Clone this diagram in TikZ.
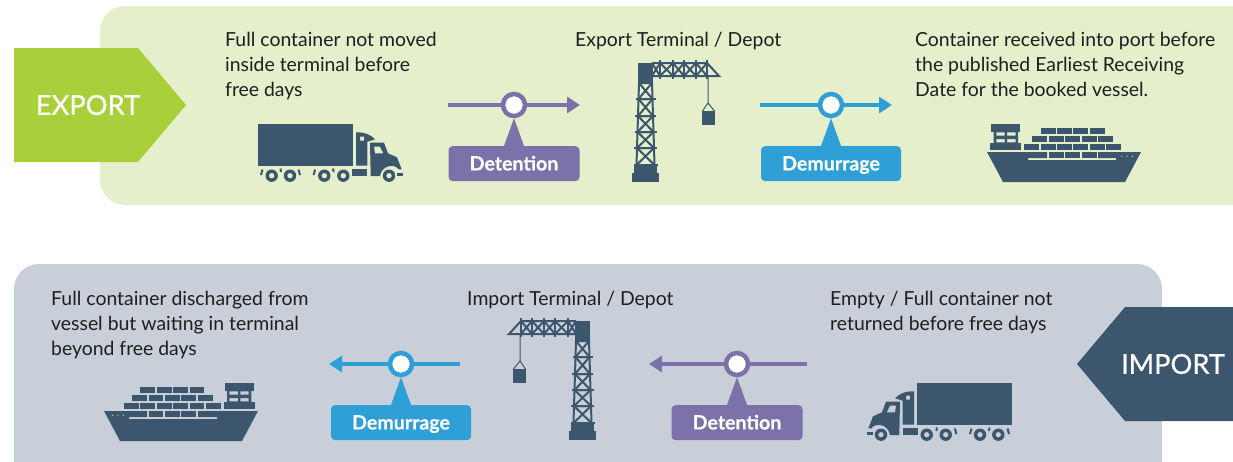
\documentclass[tikz,border=0pt]{standalone}
\usepackage{fontspec}
\setmainfont{Lato}
\newfontfamily\sidefont[FakeBold=0.6]{Lato}
\newfontfamily\tagfont[UprightFont={* Bold},FakeBold=0.4]{Lato}
\usetikzlibrary{arrows.meta, positioning}
\definecolor{leaf}{HTML}{A9D03A}
\definecolor{leafbg}{HTML}{E5EFCB}
\definecolor{slate}{HTML}{3C566E}
\definecolor{slatebg}{HTML}{C9CFD8}
\definecolor{violet}{HTML}{7C71A9}
\definecolor{sky}{HTML}{2F9FD8}
\definecolor{ink}{HTML}{1E1E1E}
\tikzset{
  note/.style={
    anchor=north west,
    inner sep=0pt,
    align=left,
    text=ink,
    font=\fontsize{19.4}{25}\selectfont
  },
  side/.style={
    text=white,
    inner sep=0pt,
    font=\sidefont\fontsize{27.3}{32}\selectfont
  },
  hub/.style={
    circle,
    draw=#1,
    fill=white,
    line width=4.5pt,
    inner sep=0pt,
    minimum size=22pt
  },
  tag/.style={
    rectangle,
    rounded corners=4pt,
    fill=#1,
    text=white,
    minimum height=35pt,
    inner sep=0pt,
    text height=13.5pt,
    text depth=0pt,
    font=\tagfont\fontsize{19.6}{22}\selectfont
  },
  flow/.style={
    draw=#1,
    line width=4pt,
    -{Triangle[length=13pt,width=16pt]}
  },
  pics/truck/.style={code={
    \fill[slate] (0,0) rectangle (95,42);
    \fill[slate,even odd rule] (98,8.3) .. controls (107,8) and (113,11) .. (117,15.3)
      -- (109.3,17.7) -- (109.3,41.7) -- (98,41.7) -- cycle
      (102,12.7) rectangle (106,16.7);
    \fill[slate,even odd rule] (112,18.7) -- (126,18.7) -- (130,29.3) -- (139,33.3)
      -- (143.7,45.3) -- (140.5,45.3) .. controls (138,40) and (124,40) .. (122,52)
      -- (112.7,52) -- cycle
      (116,22.7) -- (122,22.7) -- (125.3,29.3) -- (117,29.3) -- cycle;
    \fill[slate] (93.7,45.3) rectangle (109.3,52);
    \fill[slate] (139.3,48.7) rectangle (145.3,52);
    \foreach \wx in {13.7,32,66.3,85.3,131}
      \fill[slate,even odd rule] (\wx,51.7) circle (6.2pt) (\wx,51.7) circle (2.8pt);
    \foreach \fx in {0,52.6}{
      \draw[slate,line width=2pt] (\fx+4.5,45.5) -- (\fx+3,51);
      \draw[slate,line width=2pt] (\fx+22.5,44.5) -- (\fx+23,48);
    }
    \draw[slate,line width=2pt] (40.5,45.5) -- (42,51);
  }},
  pics/crane/.style={code={
    % tower
    \foreach \ya/\yb/\da/\db in {20/36/0/0.5,36/53/0.5/1,53/69/1/1.5,69/85/1.5/2,85/102/2/2.5}{
      \draw[slate,line width=2pt] ({1-\da},\ya) -- ({1-\db},\yb) -- ({14+\db},\yb) -- ({14+\da},\ya) -- cycle;
      \draw[slate,line width=2pt] ({1-\da},\ya) -- ({14+\db},\yb) ({14+\da},\ya) -- ({1-\db},\yb);
      \draw[slate,line width=2pt] ({-2-\db},\yb) -- ({17+\db},\yb);
    }
    % jib
    \draw[slate,line width=2pt] (14,0) -- (69,0) -- (81,13) -- (14,13);
    \foreach \xa/\xb in {14/22,22/35,35/46,46/58,58/69}{
      \draw[slate,line width=2pt] (\xa,0) -- (\xb,13) (\xb,0) -- (\xa,13);
      \draw[slate,line width=2pt] (\xb,-3) -- (\xb,16);
    }
    \fill[slate] (0.3,0) rectangle (14.7,19);
    \fill[slate] (-4,102) rectangle (19,110);
    \fill[slate] (-6.3,110) rectangle (21,119);
    % load
    \draw[slate,line width=1pt] (70,13) -- (70,40) -- (64.5,48) (70,40) -- (76.5,48);
    \fill[slate] (64,48) rectangle (77,62);
  }},
  pics/ship/.style={code={
    \fill[slate,even odd rule] (0,0) -- (60,0) -- (60,6) -- (41,6) -- (41,8) -- (129,8)
      -- (129,6) -- (111,6) -- (111,0) -- (154,0) -- (138,30) -- (16,30) -- cycle
      (134.7,4.3) circle (0.9pt) (140,4.3) circle (0.9pt) (145.3,4.3) circle (0.9pt);
    \foreach \bx in {62,78.4,94.7}
      \fill[slate] (\bx,0) rectangle +(14.8,6);
    \foreach \bx in {37.4,53.7,70,86.4,103,119.3}
      \fill[slate] (\bx,-7.9) rectangle +(14.8,6.2);
    \foreach \bx in {45.4,62,78.4,94.7,111.4}
      \fill[slate] (\bx,-16.2) rectangle +(14.8,6.2);
    \foreach \bx in {53.7,70,86.4,103}
      \fill[slate] (\bx,-24) rectangle +(14.8,6.2);
    % bridge
    \fill[slate] (4.4,-27.7) rectangle (32.7,-20.3);
    \fill[slate,even odd rule] (6.7,-20.3) rectangle (31,-8.7)
      (9.4,-19.7) rectangle (17.7,-16.3) (20,-19.7) rectangle (28.7,-16.3)
      (9.4,-13) rectangle (17.7,-9.7) (20,-13) rectangle (28.7,-9.7);
    \fill[slate] (2.7,-8.7) rectangle (34.4,-2);
  }}
}
\begin{document}
\begin{tikzpicture}[x=1pt,y=-1pt]
  \useasboundingbox (0,0) rectangle (1233,461);

  % panels
  \fill[leafbg,rounded corners=25pt] (100,6) rectangle (1290,205);
  \fill[slatebg,rounded corners=25pt] (14,264) rectangle (1162,500);
  \fill[leaf] (14,48) -- (138,48) -- (186,105) -- (138,162) -- (14,162) -- cycle;
  \fill[slate] (1240,307) -- (1125,307) -- (1077,364) -- (1125,421) -- (1240,421) -- cycle;
  \node (exportlbl) [side] at (88,105) {EXPORT};
  \node (importlbl) [side] at (1173,364) {IMPORT};

  % export row
  \node (e1) [note] at (225,32.5) {Full container not moved\\inside terminal before\\free days};
  \node (e2) [note] at (575,32.5) {Export Terminal / Depot};
  \node (e3) [note] at (915,32.5) {Container received into port before\\the published Earliest Receiving\\Date for the booked vessel.};
  \pic at (258,124) {truck};
  \pic at (638,63) {crane};
  \pic at (987,152) {ship};

  \coordinate (det1a) at (448,105);
  \coordinate (det1b) at (580,105);
  \draw[flow=violet] (det1a) -- (det1b);
  \node (hubdet1) [hub=violet] at (514,105) {};
  \node (tagdet1) [tag=violet, minimum width=131pt, below=27.7pt of hubdet1] {Detention};
  \fill[violet] (hubdet1.south) -- ([xshift=-10pt]tagdet1.north) -- ([xshift=10pt]tagdet1.north) -- cycle;

  \coordinate (dem1a) at (760,105);
  \coordinate (dem1b) at (892,105);
  \draw[flow=sky] (dem1a) -- (dem1b);
  \node (hubdem1) [hub=sky] at (831,105) {};
  \node (tagdem1) [tag=sky, minimum width=140pt, below=27.7pt of hubdem1] {Demurrage};
  \fill[sky] (hubdem1.south) -- ([xshift=-10pt]tagdem1.north) -- ([xshift=10pt]tagdem1.north) -- cycle;

  % import row
  \node (i1) [note] at (51,291.5) {Full container discharged from\\vessel but waiting in terminal\\beyond free days};
  \node (i2) [note] at (467,291.5) {Import Terminal / Depot};
  \node (i3) [note] at (830,291.5) {Empty / Full container not\\returned before free days};
  \pic[xscale=-1] at (1012,383) {truck};
  \pic[xscale=-1] at (590,321) {crane};
  \pic[xscale=-1] at (258,411) {ship};

  \coordinate (det2a) at (807,364);
  \coordinate (det2b) at (649,364);
  \draw[flow=violet] (det2a) -- (det2b);
  \node (hubdet2) [hub=violet] at (737,364) {};
  \node (tagdet2) [tag=violet, minimum width=131pt, below=27.7pt of hubdet2] {Detention};
  \fill[violet] (hubdet2.south) -- ([xshift=-10pt]tagdet2.north) -- ([xshift=10pt]tagdet2.north) -- cycle;

  \coordinate (dem2a) at (460,364);
  \coordinate (dem2b) at (329,364);
  \draw[flow=sky] (dem2a) -- (dem2b);
  \node (hubdem2) [hub=sky] at (401,364) {};
  \node (tagdem2) [tag=sky, minimum width=140pt, below=27.7pt of hubdem2] {Demurrage};
  \fill[sky] (hubdem2.south) -- ([xshift=-10pt]tagdem2.north) -- ([xshift=10pt]tagdem2.north) -- cycle;
\end{tikzpicture}
\end{document}
